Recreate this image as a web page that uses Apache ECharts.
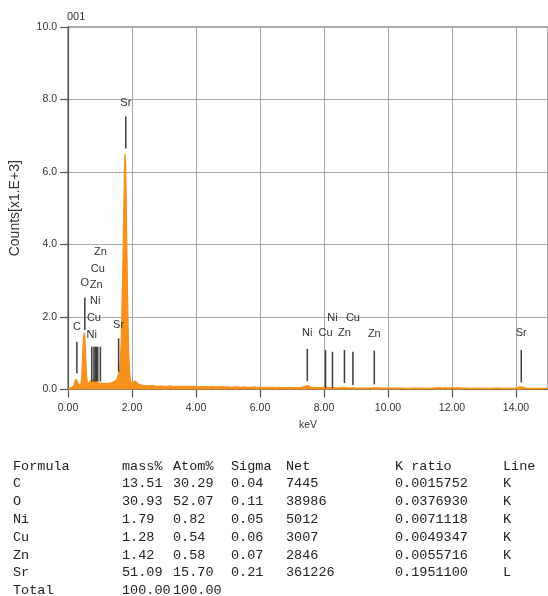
<!DOCTYPE html>
<html>
<head>
<meta charset="utf-8">
<script src="https://cdn.jsdelivr.net/npm/echarts@6/dist/echarts.min.js"></script>
<style>
html,body{margin:0;padding:0;background:#fff;}
#c{width:548px;height:596px;}
</style>
</head>
<body>
<div id="c"></div>
<script>
// ---- Spectrum data: energy (keV) and counts (x1000) ----
const energy = [
 0.00,0.04,0.08,0.12,0.16,0.20,0.22,0.24,0.26,0.28,0.30,0.32,0.34,0.36,0.38,0.40,0.42,0.44,0.46,0.48,
 0.50,0.52,0.54,0.56,0.58,0.60,0.62,0.64,0.66,0.68,0.70,0.72,0.74,0.76,0.78,0.80,0.82,0.84,0.86,0.88,
 0.90,0.92,0.94,0.96,0.98,1.00,1.05,1.10,1.15,1.20,1.25,1.30,1.35,1.40,1.45,1.50,1.54,1.56,1.58,1.60,
 1.62,1.64,1.66,1.68,1.70,1.72,1.74,1.76,1.78,1.80,1.82,1.84,1.86,1.88,1.90,1.92,1.94,1.96,1.98,2.00,
 2.04,2.08,2.10,2.14,2.18,2.24,2.30,2.40,2.50,2.60,2.70,2.80,2.90,3.00,3.10,3.20,3.30,3.40,3.50,3.60,
 3.70,3.80,3.90,4.00,4.10,4.20,4.30,4.40,4.50,4.60,4.70,4.80,4.90,5.00,5.10,5.20,5.30,5.40,5.50,5.60,
 5.70,5.80,5.90,6.00,6.10,6.20,6.30,6.40,6.50,6.60,6.70,6.80,6.90,7.00,7.10,7.20,7.30,7.40,7.45,7.50,
 7.55,7.60,7.70,7.80,7.90,8.00,8.05,8.10,8.20,8.30,8.40,8.50,8.60,8.65,8.70,8.80,8.90,9.00,9.20,9.40,
 9.60,9.80,10.00,10.20,10.40,10.60,10.80,11.00,11.20,11.40,11.60,11.70,11.80,11.90,12.00,12.10,12.20,12.30,12.40,12.60,
 12.80,13.00,13.20,13.40,13.60,13.80,14.00,14.10,14.15,14.20,14.30,14.40,14.60,14.80,15.00
];
const counts = [
 0.00,0.02,0.04,0.06,0.08,0.14,0.22,0.28,0.31,0.30,0.22,0.14,0.11,0.10,0.11,0.14,0.25,0.55,1.00,1.40,
 1.56,1.50,1.20,0.75,0.40,0.22,0.16,0.15,0.17,0.20,0.24,0.26,0.25,0.27,0.28,0.26,0.24,0.27,0.25,0.22,
 0.20,0.19,0.21,0.18,0.17,0.18,0.16,0.17,0.16,0.17,0.18,0.17,0.19,0.20,0.22,0.25,0.32,0.38,0.42,0.42,
 0.55,0.85,1.30,2.00,2.80,3.70,4.80,5.90,6.50,6.20,5.20,3.90,2.70,1.70,1.00,0.55,0.32,0.22,0.18,0.16,
 0.18,0.24,0.26,0.22,0.16,0.13,0.12,0.11,0.10,0.11,0.10,0.09,0.10,0.09,0.09,0.10,0.08,0.09,0.09,0.08,
 0.09,0.08,0.09,0.08,0.07,0.08,0.08,0.07,0.08,0.07,0.07,0.08,0.07,0.07,0.06,0.07,0.07,0.06,0.07,0.06,
 0.06,0.07,0.06,0.06,0.06,0.05,0.06,0.06,0.05,0.06,0.05,0.05,0.06,0.05,0.05,0.05,0.06,0.09,0.12,0.11,
 0.08,0.05,0.05,0.05,0.05,0.07,0.08,0.06,0.05,0.05,0.04,0.05,0.06,0.07,0.05,0.04,0.05,0.04,0.04,0.04,
 0.05,0.04,0.04,0.04,0.04,0.03,0.04,0.04,0.03,0.04,0.05,0.04,0.05,0.04,0.05,0.04,0.05,0.04,0.04,0.03,
 0.04,0.03,0.03,0.04,0.03,0.03,0.04,0.07,0.08,0.07,0.04,0.03,0.03,0.03,0.03
];

// ---- Element markers: name, energy (keV), line bottom / top and label level (counts x1000) ----
const markerNames  = ['C','O','Ni','Cu','Ni','Zn','Cu','Zn','Sr','Sr','Ni','Cu','Ni','Zn','Cu','Zn','Sr'];
const markerEnergy = [0.277,0.525,0.743,0.811,0.851,0.884,0.930,1.012,1.582,1.806,7.478,8.048,8.265,8.639,8.905,9.572,14.165];
const markerBottom = [0.45,1.64,0.22,0.22,0.22,0.22,0.22,0.22,0.49,6.65,0.23,0.04,0.04,0.18,0.12,0.14,0.19];
const markerTop    = [1.32,2.54,1.18,1.18,1.18,1.18,1.18,1.18,1.41,7.53,1.12,1.09,1.04,1.09,1.04,1.07,1.09];
const markerLabelY = [1.73,2.95,1.51,1.97,2.43,2.87,3.32,3.79,1.78,7.90,1.56,1.56,1.98,1.56,1.98,1.52,1.56];

// ---- Axis ticks ----
const xTickStep = 2, xMin = 0, xMax = 15;
const yTickStep = 2, yMin = 0, yMax = 10;
const chartTitle = '001';
const xAxisTitle = 'keV';
const yAxisTitle = 'Counts[x1.E+3]';

// ---- Quantification table ----
const tableHeader = ['Formula','mass%','Atom%','Sigma','Net','K ratio','Line'];
const tableFormula = ['C','O','Ni','Cu','Zn','Sr','Total'];
const tableMass  = ['13.51','30.93','1.79','1.28','1.42','51.09','100.00'];
const tableAtom  = ['30.29','52.07','0.82','0.54','0.58','15.70','100.00'];
const tableSigma = ['0.04','0.11','0.05','0.06','0.07','0.21',''];
const tableNet   = ['7445','38986','5012','3007','2846','361226',''];
const tableK     = ['0.0015752','0.0376930','0.0071118','0.0049347','0.0055716','0.1951100',''];
const tableLine  = ['K','K','K','K','K','L',''];

const spectrum = energy.map((e, i) => [e, counts[i]]);
const markers = markerEnergy.map((e, i) => [e, markerBottom[i], markerTop[i], markerLabelY[i]]);

const tableCols = [13, 122, 173, 231, 286, 395, 503];
const tableTop = 466, rowH = 17.8;
const tableFont = '13.5px "Liberation Mono", "Courier New", monospace';
const graphics = [];
graphics.push({type:'text', left:67, top:11, style:{text:chartTitle, font:'11px "Liberation Sans", Arial, sans-serif', fill:'#333'}});
const cols = [tableFormula, tableMass, tableAtom, tableSigma, tableNet, tableK, tableLine];
tableHeader.forEach((h, c) => {
  graphics.push({type:'text', x:tableCols[c], y:tableTop, style:{text:h, font:tableFont, fill:'#222', verticalAlign:'middle'}});
});
tableFormula.forEach((f, r) => {
  cols.forEach((col, c) => {
    if (col[r] === '') return;
    graphics.push({type:'text', x:tableCols[c], y:tableTop + rowH*(r+1), style:{text:col[r], font:tableFont, fill:'#222', verticalAlign:'middle'}});
  });
});

const chart = echarts.init(document.getElementById('c'), null, {renderer:'canvas'});
const axisFont = {fontFamily:'"Liberation Sans", Arial, sans-serif', fontSize:10.5, color:'#333'};
chart.setOption({
  animation:false,
  backgroundColor:'#fff',
  grid:{left:68, top:27, width:484, height:362.5, show:true, borderColor:'#555', borderWidth:1, backgroundColor:'transparent'},
  xAxis:{
    type:'value', min:xMin, max:xMax, interval:xTickStep,
    name:xAxisTitle, nameLocation:'middle', nameGap:30,
    nameTextStyle:{fontFamily:'"Liberation Sans", Arial, sans-serif', fontSize:10.5, color:'#333'},
    axisLine:{show:true, onZero:false, lineStyle:{color:'#666', width:1}},
    axisTick:{show:true, inside:false, length:8, lineStyle:{color:'#555', width:1.2}},
    axisLabel:Object.assign({margin:13, showMaxLabel:false, formatter:v => v.toFixed(2)}, axisFont),
    splitLine:{show:true, lineStyle:{color:'#a8a8a8', width:1}}
  },
  yAxis:{
    type:'value', min:yMin, max:yMax, interval:yTickStep,
    name:yAxisTitle, nameLocation:'middle', nameGap:46, nameRotate:90,
    nameTextStyle:{fontFamily:'"Liberation Sans", Arial, sans-serif', fontSize:14, color:'#333'},
    axisLine:{show:true, lineStyle:{color:'#555', width:1.2}},
    axisTick:{show:true, inside:false, length:8, lineStyle:{color:'#555', width:1.2}},
    axisLabel:Object.assign({margin:11, formatter:v => v.toFixed(1)}, axisFont),
    splitLine:{show:true, lineStyle:{color:'#a8a8a8', width:1}}
  },
  series:[
    {
      type:'line', data:spectrum, showSymbol:false, symbol:'none', smooth:false,
      lineStyle:{color:'#f8901c', width:1.2},
      areaStyle:{color:'#f8901c', opacity:1},
      z:2
    },
    {
      type:'custom', data:markers, encode:{x:0, y:[1,2,3]}, clip:false, z:5,
      renderItem:function(params, api){
        const e = api.value(0);
        const p1 = api.coord([e, api.value(1)]);
        const p2 = api.coord([e, api.value(2)]);
        const p3 = api.coord([e, api.value(3)]);
        return {type:'group', children:[
          {type:'line', shape:{x1:p1[0], y1:p1[1], x2:p2[0], y2:p2[1]}, style:{stroke:'#3c3c3c', lineWidth:1.5}},
          {type:'text', x:p3[0], y:p3[1], style:{text:markerNames[params.dataIndex], align:'center', verticalAlign:'middle', font:'11px "Liberation Sans", Arial, sans-serif', fill:'#333'}}
        ]};
      }
    }
  ],
  graphic:graphics
});
</script>
</body>
</html>
